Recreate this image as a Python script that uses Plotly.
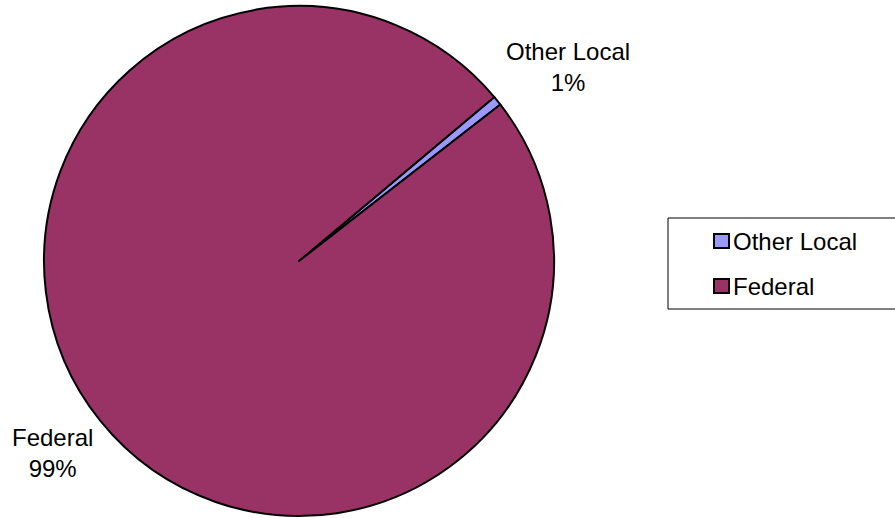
import plotly.graph_objects as go

# Funding sources and their shares
labels = ["Other Local", "Federal"]
values = [0.6, 99.4]
colors = ["#9999FF", "#993366"]

W, H = 895, 518
FONT = "Liberation Sans, Arial, sans-serif"
FS = 24

fig = go.Figure()
fig.add_trace(go.Pie(
    labels=labels,
    values=values,
    marker=dict(colors=colors, line=dict(color="black", width=2)),
    sort=False,
    direction="clockwise",
    rotation=50,
    textinfo="none",
    hoverinfo="label+percent",
    showlegend=False,
    domain=dict(x=[44 / W, 554 / W], y=[2 / H, 512 / H]),
))

total = sum(values)
# Outside data labels
label_pos = [(568, 67), (52, 453)]
for lab, val, (px, py) in zip(labels, values, label_pos):
    fig.add_annotation(
        x=px / W, y=1 - py / H, xref="paper", yref="paper",
        text=f"{lab}<br>{round(val / total * 100):.0f}%",
        showarrow=False, font=dict(family=FONT, size=FS, color="black"),
        align="center", xanchor="center", yanchor="middle",
    )

# Legend box
shapes = [dict(type="rect", xref="paper", yref="paper",
               x0=668 / W, x1=900 / W, y0=1 - 309 / H, y1=1 - 218 / H,
               line=dict(color="black", width=1), fillcolor="white", layer="below")]
for i, (lab, col) in enumerate(zip(labels, colors)):
    cy = 241 + i * 45
    shapes.append(dict(type="rect", xref="paper", yref="paper",
                       x0=714 / W, x1=729 / W, y0=1 - (cy + 7) / H, y1=1 - (cy - 7) / H,
                       line=dict(color="black", width=2), fillcolor=col))
    fig.add_annotation(
        x=731 / W, y=1 - cy / H, xref="paper", yref="paper", text=lab,
        showarrow=False, font=dict(family=FONT, size=FS, color="black"),
        xanchor="left", yanchor="middle",
    )

fig.update_layout(
    width=W, height=H,
    margin=dict(l=0, r=0, t=0, b=0),
    paper_bgcolor="white", plot_bgcolor="white",
    shapes=shapes,
)

fig.write_html("out.html")
